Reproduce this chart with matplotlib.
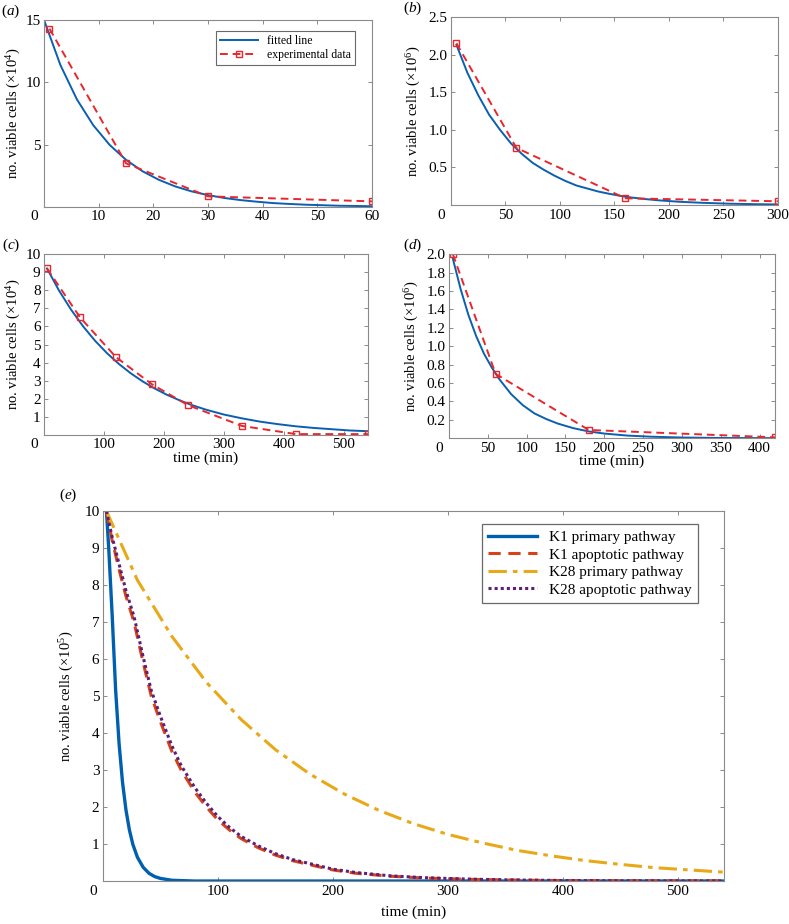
import numpy as np
import matplotlib
matplotlib.use('Agg')
import matplotlib.pyplot as plt

plt.rcParams['font.family'] = ['Liberation Serif', 'DejaVu Serif']
plt.rcParams['mathtext.fontset'] = 'custom'
plt.rcParams['mathtext.rm'] = 'Liberation Serif'
plt.rcParams['mathtext.it'] = 'Liberation Serif:italic'

# ---- data ----
# (a)
ta_fit = [0, 3, 6, 9, 12, 15, 18, 21, 24, 27, 30, 33, 36, 39, 42, 45, 48, 51, 54, 57, 60]
na_fit = [15, 11.38, 8.64, 6.56, 4.98, 3.78, 2.87, 2.18, 1.65, 1.25, 0.95, 0.72, 0.55,
          0.42, 0.31, 0.24, 0.18, 0.14, 0.10, 0.08, 0.06]
ta_exp = [1, 15, 30, 60]
na_exp = [14.3, 3.5, 0.85, 0.45]

# (b)
tb_fit = [5, 15, 25, 35, 45, 55, 65, 75, 85, 95, 105, 115, 125, 135, 145, 160, 175,
          190, 210, 230, 255, 280, 300]
nb_fit = [2.13, 1.76, 1.46, 1.20, 1.00, 0.82, 0.68, 0.56, 0.47, 0.39, 0.32, 0.26, 0.22,
          0.18, 0.15, 0.11, 0.084, 0.063, 0.043, 0.030, 0.018, 0.011, 0.008]
tb_exp = [5, 60, 160, 300]
nb_exp = [2.15, 0.76, 0.09, 0.05]

# (c)
tc_fit = [5, 25, 45, 65, 85, 105, 125, 145, 165, 185, 205, 225, 245, 270, 300, 330,
          360, 390, 420, 450, 480, 510, 540]
nc_fit = [9.2, 7.98, 6.93, 6.01, 5.21, 4.52, 3.92, 3.40, 2.95, 2.56, 2.22, 1.93, 1.67,
          1.40, 1.13, 0.92, 0.74, 0.60, 0.48, 0.39, 0.32, 0.25, 0.21]
tc_exp = [5, 60, 120, 180, 240, 330, 420, 540]
nc_exp = [9.2, 6.5, 4.3, 2.8, 1.65, 0.5, 0.05, 0.05]

# (d)
td_fit = [5, 15, 25, 35, 45, 55, 65, 80, 95, 110, 125, 140, 160, 180, 200, 230, 260,
          300, 350, 420]
nd_fit = [1.95, 1.62, 1.34, 1.11, 0.92, 0.77, 0.64, 0.48, 0.36, 0.27, 0.21, 0.16, 0.11,
          0.074, 0.051, 0.029, 0.017, 0.008, 0.003, 0.001]
td_exp = [5, 60, 180, 420]
nd_exp = [2.0, 0.70, 0.09, 0.01]

# (e)
te_k1p = [3, 5, 8, 11, 14, 17, 20, 23, 26, 30, 35, 40, 45, 50, 60, 70, 80, 100, 200, 300, 400, 540]
ne_k1p = [10, 9.0, 7.19, 5.17, 3.72, 2.67, 1.92, 1.38, 0.99, 0.64, 0.37, 0.21, 0.12,
          0.07, 0.02, 0.01, 0.0, 0.0, 0.0, 0.0, 0.0, 0.0]
te_apo = [3, 8, 15, 20, 27, 35, 42, 50, 60, 68, 80, 90, 100, 110, 120, 135, 150, 165,
          180, 200, 220, 250, 280, 320, 360, 400, 450, 540]
ne_k1a = [10, 9.2, 8.3, 7.7, 7.0, 5.9, 5.0, 4.3, 3.5, 3.0, 2.4, 2.0, 1.65, 1.38, 1.15,
          0.9, 0.7, 0.55, 0.44, 0.3, 0.21, 0.13, 0.08, 0.045, 0.025, 0.012, 0.006, 0.002]
ne_k28a = [10, 9.3, 8.45, 7.85, 7.15, 6.05, 5.15, 4.45, 3.65, 3.12, 2.52, 2.1, 1.74,
           1.45, 1.21, 0.95, 0.74, 0.58, 0.47, 0.32, 0.23, 0.14, 0.09, 0.05, 0.028,
           0.014, 0.007, 0.003]
te_k28p = [3, 30, 60, 90, 120, 150, 180, 210, 240, 270, 300, 330, 360, 390, 420, 450, 480, 510, 540]
ne_k28p = [10, 8.13, 6.61, 5.37, 4.37, 3.55, 2.89, 2.35, 1.91, 1.55, 1.26, 1.03, 0.83,
           0.68, 0.55, 0.45, 0.36, 0.30, 0.24]

BLUE = '#0a5fb0'
RED = '#e8262b'
GRAY = '#8a8a8a'


def style(ax, xlim, ylim, xticks, yticks, yfmt=None, fs=11):
    ax.set_xlim(xlim)
    ax.set_ylim(ylim)
    ax.set_xticks(xticks)
    ax.set_xticklabels(['' if v == 0 else str(v) for v in xticks], fontsize=fs)
    ax.set_yticks(yticks)
    if yfmt:
        ax.set_yticklabels([yfmt % v for v in yticks], fontsize=fs)
    else:
        ax.set_yticklabels([str(v) for v in yticks], fontsize=fs)
    ax.tick_params(direction='in', top=True, right=True, length=3, width=0.7,
                   color=GRAY, pad=2.5)
    for s in ax.spines.values():
        s.set_color(GRAY)
        s.set_linewidth(0.8)
    ax.annotate('0', xy=(0, 0), xycoords='axes fraction', xytext=(-7, -2.5),
                textcoords='offset points', ha='center', va='top', fontsize=fs)


def fitpanel(ax, tf, nf, te, ne):
    ax.plot(tf, nf, color=BLUE, lw=1.4, label='fitted line')
    ax.plot(te, ne, color=RED, lw=1.4, ls=(0, (4, 2.5)), marker='s', ms=4,
            mfc='none', mec=RED, mew=1.0, label='experimental data')


fig = plt.figure(figsize=(7.89, 9.24), dpi=100)

# (a)
ax1 = fig.add_axes([0.0558, 0.776, 0.4157, 0.2024])
fitpanel(ax1, ta_fit, na_fit, ta_exp, na_exp)
style(ax1, (0, 60), (0, 15), [0, 10, 20, 30, 40, 50, 60], [5, 10, 15])
ax1.set_ylabel(r'no. viable cells ($\times$10$^4$)', fontsize=10.5, labelpad=2)
leg = ax1.legend(loc='upper right', fontsize=8.5, frameon=True, fancybox=False,
                 handlelength=3.2, borderpad=0.3, labelspacing=0.2,
                 bbox_to_anchor=(0.965, 0.97))
leg.get_frame().set_edgecolor('#444444')
leg.get_frame().set_linewidth(0.8)
ax1.text(-0.13, 1.0, r'($\it{a}$)', transform=ax1.transAxes, fontsize=11,
         ha='left', va='bottom')

# (b)
ax2 = fig.add_axes([0.5716, 0.7781, 0.4144, 0.2035])
fitpanel(ax2, tb_fit, nb_fit, tb_exp, nb_exp)
style(ax2, (0, 300), (0, 2.5), [0, 50, 100, 150, 200, 250, 300],
      [0.5, 1.0, 1.5, 2.0, 2.5], '%.1f')
ax2.set_ylabel(r'no. viable cells ($\times$10$^6$)', fontsize=10.5, labelpad=4)
ax2.text(-0.147, 1.0, r'($\it{b}$)', transform=ax2.transAxes, fontsize=11,
         ha='left', va='bottom')

# (c)
ax3 = fig.add_axes([0.0558, 0.5292, 0.4106, 0.1959])
fitpanel(ax3, tc_fit, nc_fit, tc_exp, nc_exp)
style(ax3, (0, 540), (0, 10), [0, 100, 200, 300, 400, 500], list(range(1, 11)))
ax3.set_ylabel(r'no. viable cells ($\times$10$^4$)', fontsize=10.5, labelpad=2)
ax3.set_xlabel('time (min)', fontsize=11, labelpad=0)
ax3.text(-0.13, 1.0, r'($\it{c}$)', transform=ax3.transAxes, fontsize=11,
         ha='left', va='bottom')

# (d)
ax4 = fig.add_axes([0.5691, 0.5257, 0.4132, 0.1991])
fitpanel(ax4, td_fit, nd_fit, td_exp, nd_exp)
style(ax4, (0, 420), (0, 2.0), [0, 50, 100, 150, 200, 250, 300, 350, 400],
      [0.2, 0.4, 0.6, 0.8, 1.0, 1.2, 1.4, 1.6, 1.8, 2.0], '%.1f')
ax4.set_ylabel(r'no. viable cells ($\times$10$^6$)', fontsize=10.5, labelpad=4)
ax4.set_xlabel('time (min)', fontsize=11, labelpad=0)
ax4.text(-0.14, 1.0, r'($\it{d}$)', transform=ax4.transAxes, fontsize=11,
         ha='left', va='bottom')

# (e)
ax5 = fig.add_axes([0.1305, 0.0465, 0.787, 0.4004])
ax5.plot(te_k1p, ne_k1p, color='#0060b0', lw=2.4, label='K1 primary pathway')
ax5.plot(te_apo, ne_k1a, color='#d6421a', lw=2.2, ls=(0, (4, 2.5)),
         label='K1 apoptotic pathway')
ax5.plot(te_k28p, ne_k28p, color='#e8a818', lw=2.2, ls=(0, (6, 2, 1.5, 2)),
         label='K28 primary pathway')
ax5.plot(te_apo, ne_k28a, color='#5e1f78', lw=2.2, ls=(0, (1, 1)),
         label='K28 apoptotic pathway')
style(ax5, (0, 540), (0, 10), [0, 100, 200, 300, 400, 500], list(range(1, 11)),
      fs=11)
ax5.set_ylabel(r'no. viable cells ($\times$10$^5$)', fontsize=10.5, labelpad=6)
ax5.set_xlabel('time (min)', fontsize=11, labelpad=6)
leg5 = ax5.legend(loc='upper right', fontsize=11, frameon=True, fancybox=False,
                  handlelength=3.2, borderpad=0.4, labelspacing=0.25,
                  bbox_to_anchor=(0.97, 0.985))
leg5.get_frame().set_edgecolor('#444444')
leg5.get_frame().set_linewidth(0.9)
ax5.text(-0.07, 1.02, r'($\it{e}$)', transform=ax5.transAxes, fontsize=11,
         ha='left', va='bottom')

fig.savefig('out.png', dpi=100)
